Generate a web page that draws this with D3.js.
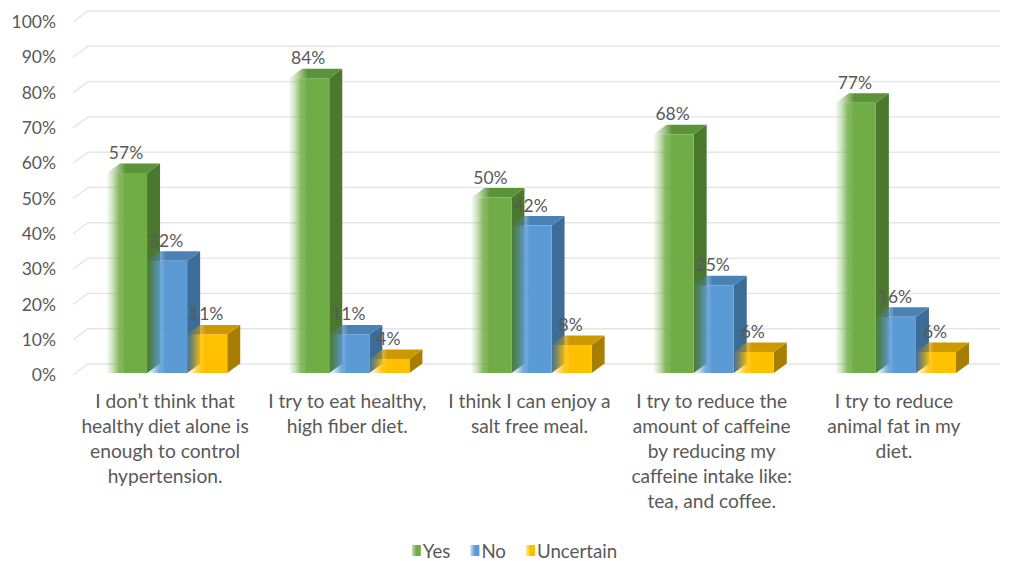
<!DOCTYPE html>
<html>
<head>
<meta charset="utf-8">
<script src="https://cdn.jsdelivr.net/npm/d3@7"></script>
<style>
  html, body { margin: 0; padding: 0; background: #fff; }
  svg { display: block; }
  text { font-family: Lato, "Open Sans", sans-serif; fill: #595959; }
</style>
</head>
<body>
<svg id="chart" width="1012" height="561"></svg>
<script>
// Survey answers (percent of respondents)
const categories = [
  ["I don’t think that", "healthy diet alone is", "enough to control", "hypertension."],
  ["I try to eat healthy,", "high fiber diet."],
  ["I think I can enjoy a", "salt free meal."],
  ["I try to reduce the", "amount of caffeine", "by reducing my", "caffeine intake like:", "tea, and coffee."],
  ["I try to reduce", "animal fat in my", "diet."]
];
const seriesNames = ["Yes", "No", "Uncertain"];
const yesValues = [57, 84, 50, 68, 77];
const noValues = [32, 11, 42, 25, 16];
const uncertainValues = [11, 4, 8, 6, 6];
const tickValues = [0, 10, 20, 30, 40, 50, 60, 70, 80, 90, 100];

const seriesValues = [yesValues, noValues, uncertainValues];
const palette = {
  Yes:       { front: "#70AD47", side: "#4A782D", top: "#5B9338" },
  No:        { front: "#5B9BD5", side: "#3C6C98", top: "#4B82B6" },
  Uncertain: { front: "#FFC000", side: "#A87E00", top: "#CC9900" }
};

const svg = d3.select("#chart");
const catKeys = categories.map((c, i) => "c" + i);

// depth of the bars and of the back wall (pseudo 3D)
const depthX = 13, depthY = 9.5;
const wallX = 15, wallY = 11;

const x = d3.scaleBand().domain(catKeys).range([76, 987]).paddingInner(0.34).paddingOuter(0.17);
const xs = d3.scaleBand().domain(seriesNames).range([0, x.bandwidth()]).padding(0);
const y = d3.scaleLinear().domain([0, 100]).range([373, 22]);       // bar front plane
const yWall = d3.scaleLinear().domain([0, 100]).range([364, 11]);   // back wall

// gradients
const defs = svg.append("defs");
seriesNames.forEach(s => {
  const c = palette[s];
  const gf = defs.append("linearGradient").attr("id", "front-" + s).attr("x1", 0).attr("x2", 1).attr("y1", 0).attr("y2", 0);
  [[0, 0.05], [0.14, 0.35], [0.3, 0.85], [0.42, 0.92], [0.43, 1], [1, 1]].forEach(([o, op]) =>
    gf.append("stop").attr("offset", o).attr("stop-color", c.front).attr("stop-opacity", op));
  const gt = defs.append("linearGradient").attr("id", "top-" + s).attr("x1", 0).attr("x2", 1).attr("y1", 0).attr("y2", 0);
  [[0, 0.05], [0.15, 0.4], [0.35, 1], [1, 1]].forEach(([o, op]) =>
    gt.append("stop").attr("offset", o).attr("stop-color", c.top).attr("stop-opacity", op));
  const gl = defs.append("linearGradient").attr("id", "leg-" + s).attr("x1", 0).attr("x2", 1).attr("y1", 0).attr("y2", 0);
  [[0, 0.35], [0.5, 1], [1, 1]].forEach(([o, op]) =>
    gl.append("stop").attr("offset", o).attr("stop-color", c.front).attr("stop-opacity", op));
});

// gridlines on back wall with the short floor-side diagonal
const grid = svg.append("g");
tickValues.forEach(t => {
  const yb = yWall(t);
  grid.append("path")
    .attr("d", `M${88 - wallX},${yb + wallY} L88,${yb} L1000,${yb}`)
    .attr("fill", "none").attr("stroke", "#E5E5E5").attr("stroke-width", 1.4);
});

// y axis labels (aligned with front edge)
const yAxis = d3.axisLeft(d3.scaleLinear().domain([0, 100]).range([yWall(0) + wallY, yWall(100) + wallY]))
  .tickValues(tickValues).tickFormat(d => d + "%").tickSize(0).tickPadding(0);
const ya = svg.append("g").attr("transform", "translate(56,0)").call(yAxis);
ya.select(".domain").remove();
ya.selectAll("text").attr("font-size", 17.5).attr("fill", "#595959").attr("font-family", "Lato, sans-serif");

// bars
const bars = svg.append("g");
catKeys.forEach((ck, ci) => {
  seriesNames.forEach((s, si) => {
    const v = seriesValues[si][ci];
    const x0 = x(ck) + xs(s), w = xs.bandwidth();
    const yt = y(v), yb = y(0);
    const g = bars.append("g");
    // side
    g.append("path")
      .attr("d", `M${x0 + w},${yt} L${x0 + w + depthX},${yt - depthY} L${x0 + w + depthX},${yb - depthY} L${x0 + w},${yb} Z`)
      .attr("fill", palette[s].side);
    // top
    g.append("path")
      .attr("d", `M${x0},${yt} L${x0 + depthX},${yt - depthY} L${x0 + w + depthX},${yt - depthY} L${x0 + w},${yt} Z`)
      .attr("fill", `url(#top-${s})`);
    // front
    g.append("rect").attr("x", x0).attr("y", yt).attr("width", w).attr("height", yb - yt)
      .attr("fill", `url(#front-${s})`);
  });
});

// value labels
const labels = svg.append("g");
catKeys.forEach((ck, ci) => {
  seriesNames.forEach((s, si) => {
    const v = seriesValues[si][ci];
    labels.append("text")
      .attr("x", x(ck) + xs(s) + xs.bandwidth() / 2 - 1)
      .attr("y", y(v) - 20.5)
      .attr("text-anchor", "middle").attr("dominant-baseline", "central")
      .attr("font-size", 17.5)
      .text(v + "%");
  });
});

// category labels
const cats = svg.append("g");
categories.forEach((lines, ci) => {
  const cx = x(catKeys[ci]) + x.bandwidth() / 2 - 2;
  lines.forEach((ln, li) => {
    cats.append("text").attr("x", cx).attr("y", 400 + li * 25)
      .attr("text-anchor", "middle").attr("dominant-baseline", "central")
      .attr("font-size", 19.2).text(ln);
  });
});

// legend
const legend = svg.append("g");
let cursor = 0;
seriesNames.forEach(s => {
  const it = legend.append("g");
  it.append("rect").attr("x", 0).attr("y", -6).attr("width", 9).attr("height", 11).attr("fill", `url(#leg-${s})`);
  const t = it.append("text").attr("x", 11).attr("y", 0).attr("dominant-baseline", "central").attr("font-size", 18.7).text(s);
  const wItem = 11 + t.node().getComputedTextLength();
  it.attr("transform", `translate(${cursor},0)`);
  cursor += wItem + 20;
});
const totalW = cursor - 20;
legend.attr("transform", `translate(${514.5 - totalW / 2},551)`);
</script>
</body>
</html>
